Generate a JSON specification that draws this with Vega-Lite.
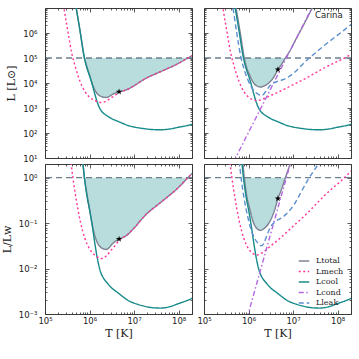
{
"$schema":"https://vega.github.io/schema/vega-lite/v6.json",
"background":"white",
"padding":{"left":0,"top":7,"right":8,"bottom":0},
"config":{"font":"DejaVu Sans","view":{"stroke":"#3a3a3a","strokeWidth":1},
 "axis":{"grid":false,"domain":false,"tickColor":"#333","tickWidth":0.8,"labelFont":"DejaVu Sans","labelFontSize":8.5,"labelColor":"#222","titleFont":"DejaVu Serif","titleFontWeight":"normal","titleFontSize":11,"titleColor":"#222"},
 "legend":{"orient":"bottom-right","offset":7,"symbolType":"stroke","symbolStrokeWidth":1.5,"symbolSize":110,"labelFont":"DejaVu Serif","labelFontSize":8,"rowPadding":0.5,"padding":0,"labelColor":"#222","labelOffset":6}},
"datasets":{"c":[
{"p":"A","s":"Lcool","T":467700,"L":19950000,"r":199.5},
{"p":"A","s":"Lcool","T":501200,"L":10000000,"r":100},
{"p":"A","s":"Lcool","T":616600,"L":1122000,"r":11.22},
{"p":"A","s":"Lcool","T":758600,"L":112200,"r":1.122},
{"p":"A","s":"Lcool","T":891300,"L":35480,"r":0.3548},
{"p":"A","s":"Lcool","T":1000000,"L":19950,"r":0.1995},
{"p":"A","s":"Lcool","T":1148000,"L":8913,"r":0.08913},
{"p":"A","s":"Lcool","T":1318000,"L":3548,"r":0.03548},
{"p":"A","s":"Lcool","T":1514000,"L":1585,"r":0.01585},
{"p":"A","s":"Lcool","T":1738000,"L":891.3,"r":0.008913},
{"p":"A","s":"Lcool","T":2089000,"L":602.6,"r":0.006026},
{"p":"A","s":"Lcool","T":2512000,"L":478.6,"r":0.004786},
{"p":"A","s":"Lcool","T":3162000,"L":371.5,"r":0.003715},
{"p":"A","s":"Lcool","T":4169000,"L":302,"r":0.00302},
{"p":"A","s":"Lcool","T":5623000,"L":239.9,"r":0.002399},
{"p":"A","s":"Lcool","T":7586000,"L":195,"r":0.00195},
{"p":"A","s":"Lcool","T":10000000,"L":173.8,"r":0.001738},
{"p":"A","s":"Lcool","T":15850000,"L":151.4,"r":0.001514},
{"p":"A","s":"Lcool","T":25120000,"L":138,"r":0.00138},
{"p":"A","s":"Lcool","T":39810000,"L":134.9,"r":0.001349},
{"p":"A","s":"Lcool","T":63100000,"L":144.5,"r":0.001445},
{"p":"A","s":"Lcool","T":100000000,"L":169.8,"r":0.001698},
{"p":"A","s":"Lcool","T":158500000,"L":199.5,"r":0.001995},
{"p":"A","s":"Lcool","T":204200000,"L":223.9,"r":0.002239},
{"p":"L","s":"Ltotal","T":467700,"L":19950000,"r":199.5},
{"p":"L","s":"Ltotal","T":501200,"L":10000000,"r":100},
{"p":"L","s":"Ltotal","T":616600,"L":1122000,"r":11.22},
{"p":"L","s":"Ltotal","T":765600,"L":100000,"r":1},
{"p":"L","s":"Ltotal","T":891300,"L":39810,"r":0.3981},
{"p":"L","s":"Ltotal","T":1023000,"L":17780,"r":0.1778},
{"p":"L","s":"Ltotal","T":1148000,"L":9333,"r":0.09333},
{"p":"L","s":"Ltotal","T":1318000,"L":5248,"r":0.05248},
{"p":"L","s":"Ltotal","T":1514000,"L":3631,"r":0.03631},
{"p":"L","s":"Ltotal","T":1778000,"L":2951,"r":0.02951},
{"p":"L","s":"Ltotal","T":2089000,"L":2692,"r":0.02692},
{"p":"L","s":"Ltotal","T":2344000,"L":2630,"r":0.0263},
{"p":"L","s":"Ltotal","T":2692000,"L":2818,"r":0.02818},
{"p":"L","s":"Ltotal","T":3162000,"L":3388,"r":0.03388},
{"p":"L","s":"Ltotal","T":3802000,"L":3981,"r":0.03981},
{"p":"L","s":"Ltotal","T":4571000,"L":4467,"r":0.04467},
{"p":"L","s":"Ltotal","T":5495000,"L":4786,"r":0.04786},
{"p":"L","s":"Ltotal","T":6310000,"L":5129,"r":0.05129},
{"p":"L","s":"Ltotal","T":7413000,"L":5754,"r":0.05754},
{"p":"L","s":"Ltotal","T":8710000,"L":6761,"r":0.06761},
{"p":"L","s":"Ltotal","T":10470000,"L":8128,"r":0.08128},
{"p":"L","s":"Ltotal","T":13490000,"L":10960,"r":0.1096},
{"p":"L","s":"Ltotal","T":19050000,"L":15850,"r":0.1585},
{"p":"L","s":"Ltotal","T":31620000,"L":23990,"r":0.2399},
{"p":"L","s":"Ltotal","T":53700000,"L":36310,"r":0.3631},
{"p":"L","s":"Ltotal","T":91200000,"L":56230,"r":0.5623},
{"p":"L","s":"Ltotal","T":151400000,"L":93330,"r":0.9333},
{"p":"L","s":"Ltotal","T":162200000,"L":100000,"r":1},
{"p":"L","s":"Ltotal","T":204200000,"L":125900,"r":1.259},
{"p":"L","s":"Lmech","T":251200,"L":19950000,"r":199.5},
{"p":"L","s":"Lmech","T":269200,"L":8913000,"r":89.13},
{"p":"L","s":"Lmech","T":331100,"L":1000000,"r":10},
{"p":"L","s":"Lmech","T":398100,"L":158500,"r":1.585},
{"p":"L","s":"Lmech","T":478600,"L":44670,"r":0.4467},
{"p":"L","s":"Lmech","T":616600,"L":11220,"r":0.1122},
{"p":"L","s":"Lmech","T":794300,"L":4467,"r":0.04467},
{"p":"L","s":"Lmech","T":1023000,"L":2630,"r":0.0263},
{"p":"L","s":"Lmech","T":1380000,"L":1905,"r":0.01905},
{"p":"L","s":"Lmech","T":1862000,"L":1660,"r":0.0166},
{"p":"L","s":"Lmech","T":2399000,"L":1905,"r":0.01905},
{"p":"L","s":"Lmech","T":3020000,"L":2512,"r":0.02512},
{"p":"L","s":"Lmech","T":3715000,"L":3162,"r":0.03162},
{"p":"L","s":"Lmech","T":4571000,"L":4169,"r":0.04169},
{"p":"L","s":"Lmech","T":5495000,"L":4786,"r":0.04786},
{"p":"L","s":"Lmech","T":6310000,"L":5129,"r":0.05129},
{"p":"L","s":"Lmech","T":7413000,"L":5754,"r":0.05754},
{"p":"L","s":"Lmech","T":8710000,"L":6761,"r":0.06761},
{"p":"L","s":"Lmech","T":10470000,"L":8128,"r":0.08128},
{"p":"L","s":"Lmech","T":13490000,"L":10960,"r":0.1096},
{"p":"L","s":"Lmech","T":19050000,"L":15850,"r":0.1585},
{"p":"L","s":"Lmech","T":31620000,"L":23990,"r":0.2399},
{"p":"L","s":"Lmech","T":53700000,"L":36310,"r":0.3631},
{"p":"L","s":"Lmech","T":91200000,"L":56230,"r":0.5623},
{"p":"L","s":"Lmech","T":151400000,"L":93330,"r":0.9333},
{"p":"L","s":"Lmech","T":204200000,"L":125900,"r":1.259},
{"p":"R","s":"Ltotal","T":489800,"L":19950000,"r":199.5},
{"p":"R","s":"Ltotal","T":524800,"L":10000000,"r":100},
{"p":"R","s":"Ltotal","T":645700,"L":1122000,"r":11.22},
{"p":"R","s":"Ltotal","T":803500,"L":100000,"r":1},
{"p":"R","s":"Ltotal","T":891300,"L":45710,"r":0.4571},
{"p":"R","s":"Ltotal","T":1072000,"L":19950,"r":0.1995},
{"p":"R","s":"Ltotal","T":1259000,"L":10960,"r":0.1096},
{"p":"R","s":"Ltotal","T":1514000,"L":7762,"r":0.07762},
{"p":"R","s":"Ltotal","T":1862000,"L":6918,"r":0.06918},
{"p":"R","s":"Ltotal","T":2291000,"L":7762,"r":0.07762},
{"p":"R","s":"Ltotal","T":3020000,"L":10960,"r":0.1096},
{"p":"R","s":"Ltotal","T":3890000,"L":19950,"r":0.1995},
{"p":"R","s":"Ltotal","T":4571000,"L":34670,"r":0.3467},
{"p":"R","s":"Ltotal","T":5495000,"L":54950,"r":0.5495},
{"p":"R","s":"Ltotal","T":6714000,"L":100000,"r":1},
{"p":"R","s":"Ltotal","T":8511000,"L":195000,"r":1.95},
{"p":"R","s":"Ltotal","T":10960000,"L":467700,"r":4.677},
{"p":"R","s":"Ltotal","T":16600000,"L":1862000,"r":18.62},
{"p":"R","s":"Ltotal","T":28180000,"L":11750000,"r":117.5},
{"p":"R","s":"Ltotal","T":31620000,"L":17780000,"r":177.8},
{"p":"R","s":"Lmech","T":251200,"L":19950000,"r":199.5},
{"p":"R","s":"Lmech","T":269200,"L":8913000,"r":89.13},
{"p":"R","s":"Lmech","T":331100,"L":1000000,"r":10},
{"p":"R","s":"Lmech","T":398100,"L":158500,"r":1.585},
{"p":"R","s":"Lmech","T":478600,"L":44670,"r":0.4467},
{"p":"R","s":"Lmech","T":616600,"L":11220,"r":0.1122},
{"p":"R","s":"Lmech","T":794300,"L":4467,"r":0.04467},
{"p":"R","s":"Lmech","T":1023000,"L":2630,"r":0.0263},
{"p":"R","s":"Lmech","T":1259000,"L":2138,"r":0.02138},
{"p":"R","s":"Lmech","T":1585000,"L":1995,"r":0.01995},
{"p":"R","s":"Lmech","T":2239000,"L":2399,"r":0.02399},
{"p":"R","s":"Lmech","T":3162000,"L":3162,"r":0.03162},
{"p":"R","s":"Lmech","T":5012000,"L":4571,"r":0.04571},
{"p":"R","s":"Lmech","T":7943000,"L":6918,"r":0.06918},
{"p":"R","s":"Lmech","T":12590000,"L":10470,"r":0.1047},
{"p":"R","s":"Lmech","T":19950000,"L":15850,"r":0.1585},
{"p":"R","s":"Lmech","T":31620000,"L":25120,"r":0.2512},
{"p":"R","s":"Lmech","T":50120000,"L":39810,"r":0.3981},
{"p":"R","s":"Lmech","T":79430000,"L":60260,"r":0.6026},
{"p":"R","s":"Lmech","T":125900000,"L":89130,"r":0.8913},
{"p":"R","s":"Lmech","T":204200000,"L":141300,"r":1.413},
{"p":"R","s":"Lcond","T":354800,"L":2.818,"r":0.00002818},
{"p":"R","s":"Lcond","T":1000000,"L":105.9,"r":0.001059},
{"p":"R","s":"Lcond","T":3162000,"L":5957,"r":0.05957},
{"p":"R","s":"Lcond","T":10000000,"L":335000,"r":3.35},
{"p":"R","s":"Lcond","T":39810000,"L":42170000,"r":421.7},
{"p":"R","s":"Lleak","T":416900,"L":19950000,"r":199.5},
{"p":"R","s":"Lleak","T":446700,"L":10000000,"r":100},
{"p":"R","s":"Lleak","T":549500,"L":891300,"r":8.913},
{"p":"R","s":"Lleak","T":660700,"L":125900,"r":1.259},
{"p":"R","s":"Lleak","T":794300,"L":35480,"r":0.3548},
{"p":"R","s":"Lleak","T":955000,"L":14130,"r":0.1413},
{"p":"R","s":"Lleak","T":1148000,"L":7079,"r":0.07079},
{"p":"R","s":"Lleak","T":1380000,"L":4571,"r":0.04571},
{"p":"R","s":"Lleak","T":1660000,"L":3548,"r":0.03548},
{"p":"R","s":"Lleak","T":1905000,"L":3162,"r":0.03162},
{"p":"R","s":"Lleak","T":2188000,"L":3548,"r":0.03548},
{"p":"R","s":"Lleak","T":2630000,"L":5623,"r":0.05623},
{"p":"R","s":"Lleak","T":3162000,"L":8511,"r":0.08511},
{"p":"R","s":"Lleak","T":3981000,"L":10720,"r":0.1072},
{"p":"R","s":"Lleak","T":5623000,"L":13180,"r":0.1318},
{"p":"R","s":"Lleak","T":7943000,"L":17780,"r":0.1778},
{"p":"R","s":"Lleak","T":11220000,"L":28180,"r":0.2818},
{"p":"R","s":"Lleak","T":15850000,"L":52480,"r":0.5248},
{"p":"R","s":"Lleak","T":22390000,"L":95500,"r":0.955},
{"p":"R","s":"Lleak","T":31620000,"L":158500,"r":1.585},
{"p":"R","s":"Lleak","T":50120000,"L":316200,"r":3.162},
{"p":"R","s":"Lleak","T":79430000,"L":602600,"r":6.026},
{"p":"R","s":"Lleak","T":125900000,"L":1122000,"r":11.22},
{"p":"R","s":"Lleak","T":204200000,"L":2239000,"r":22.39},
{"p":"L","s":"star","T":4603000,"L":4467,"r":0.04467},
{"p":"R","s":"star","T":4571000,"L":34670,"r":0.3467}
]},
"columns":2,
"spacing":{"row":6,"column":12},
"bounds":"flush",
"resolve":{"scale":{"color":"independent","strokeDash":"independent"}},
"concat":[
{"width":147,"height":150,"data":{"name":"c"},
 "layer":[
  {"layer":[
   {"transform":[{"filter":"datum.p=='L' && datum.s=='Ltotal' && datum.L<=100000"}],
    "mark":{"type":"area","color":"#b9dcdc","interpolate":"monotone","clip":true},
    "encoding":{"x":{"field":"T","type":"quantitative","scale":{"type":"log","domain":[100000,200000000],"nice":false},"axis":{"orient":"bottom","values":[100000,1000000,10000000,100000000],"labels":false,"tickSize":4,"offset":-4,"title":null}},
     "y":{"field":"L","type":"quantitative","scale":{"type":"log","domain":[10,10000000],"nice":false},"axis":{"orient":"left","values":[10,100,1000,10000,100000,1000000],"labelExpr":"'10' + replace(replace(replace(replace(replace(replace(replace(replace(replace(replace(replace('' + round(log(datum.value)/LN10), '-', '⁻'), '0', '⁰'), '1', '¹'), '2', '²'), '3', '³'), '4', '⁴'), '5', '⁵'), '6', '⁶'), '7', '⁷'), '8', '⁸'), '9', '⁹')","tickSize":4,"offset":-4,"labelPadding":8,"title":"L  [L⊙]","titlePadding":6}},
     "y2":{"datum":100000}}},
   {"data":{"values":[{}]},"mark":{"type":"rule","color":"#6d7f91","strokeDash":[6,4],"strokeWidth":1.3},"encoding":{"y":{"datum":100000,"type":"quantitative","scale":{"type":"log","domain":[10,10000000],"nice":false}}}},
   {"transform":[{"filter":"datum.p=='L' && datum.s=='Ltotal'"}],"mark":{"type":"line","strokeWidth":1.4,"interpolate":"monotone","clip":true},
    "encoding":{"x":{"field":"T","type":"quantitative","scale":{"type":"log","domain":[100000,200000000],"nice":false}},"y":{"field":"L","type":"quantitative","scale":{"type":"log","domain":[10,10000000],"nice":false}},
     "color":{"field":"s","type":"nominal","title":null,"legend":null,"scale":{"domain":["Ltotal","Lmech","Lcool","Lcond","Lleak"],"range":["#7d8193","#ff3399","#178a8a","#b366e0","#5b8fcf"]}},
     "strokeDash":{"field":"s","type":"nominal","title":null,"legend":null,"scale":{"domain":["Ltotal","Lmech","Lcool","Lcond","Lleak"],"range":[[1,0],[2,2.5],[1,0],[5,2.5,1.5,2.5],[5,3]]}}}},
   {"transform":[{"filter":"datum.p!='R' && datum.s=='Lcool'"}],"mark":{"type":"line","strokeWidth":1.4,"interpolate":"monotone","clip":true},
    "encoding":{"x":{"field":"T","type":"quantitative","scale":{"type":"log","domain":[100000,200000000],"nice":false}},"y":{"field":"L","type":"quantitative","scale":{"type":"log","domain":[10,10000000],"nice":false}},
     "color":{"field":"s","type":"nominal","title":null,"legend":null,"scale":{"domain":["Ltotal","Lmech","Lcool","Lcond","Lleak"],"range":["#7d8193","#ff3399","#178a8a","#b366e0","#5b8fcf"]}},
     "strokeDash":{"field":"s","type":"nominal","title":null,"legend":null,"scale":{"domain":["Ltotal","Lmech","Lcool","Lcond","Lleak"],"range":[[1,0],[2,2.5],[1,0],[5,2.5,1.5,2.5],[5,3]]}}}},
   {"transform":[{"filter":"datum.p=='L' && datum.s=='Lmech'"}],"mark":{"type":"line","strokeWidth":1.4,"interpolate":"monotone","clip":true},
    "encoding":{"x":{"field":"T","type":"quantitative","scale":{"type":"log","domain":[100000,200000000],"nice":false}},"y":{"field":"L","type":"quantitative","scale":{"type":"log","domain":[10,10000000],"nice":false}},
     "color":{"field":"s","type":"nominal","title":null,"legend":null,"scale":{"domain":["Ltotal","Lmech","Lcool","Lcond","Lleak"],"range":["#7d8193","#ff3399","#178a8a","#b366e0","#5b8fcf"]}},
     "strokeDash":{"field":"s","type":"nominal","title":null,"legend":null,"scale":{"domain":["Ltotal","Lmech","Lcool","Lcond","Lleak"],"range":[[1,0],[2,2.5],[1,0],[5,2.5,1.5,2.5],[5,3]]}}}},
   {"transform":[{"filter":"datum.p=='L' && datum.s=='star'"}],"mark":{"type":"point","shape":"M0,-1L0.2245,-0.309L0.9511,-0.309L0.3633,0.118L0.5878,0.809L0,0.382L-0.5878,0.809L-0.3633,0.118L-0.9511,-0.309L-0.2245,-0.309Z","filled":true,"color":"black","opacity":1,"size":45},
    "encoding":{"x":{"field":"T","type":"quantitative","scale":{"type":"log","domain":[100000,200000000],"nice":false}},"y":{"field":"L","type":"quantitative","scale":{"type":"log","domain":[10,10000000],"nice":false}}}}
  ]},
  {"data":{"values":[{}]},"mark":{"type":"point","opacity":0},"encoding":{"x":{"datum":1000000,"type":"quantitative","scale":{"type":"log","domain":[100000,200000000],"nice":false},"axis":{"orient":"top","values":[100000,1000000,10000000,100000000],"labels":false,"tickSize":4,"offset":-4,"title":null}},"y":{"datum":1000,"type":"quantitative","scale":{"type":"log","domain":[10,10000000],"nice":false},"axis":{"orient":"right","values":[10,100,1000,10000,100000,1000000],"labels":false,"tickSize":4,"offset":-4,"title":null}}}},
  {"data":{"values":[{}]},"mark":{"type":"point","opacity":0},"encoding":{"x":{"datum":1000000,"type":"quantitative","scale":{"type":"log","domain":[100000,200000000],"nice":false},"axis":{"orient":"bottom","values":[200000,300000,400000,500000,600000,700000,800000,900000,2000000,3000000,4000000,5000000,6000000,7000000,8000000,9000000,20000000,30000000,40000000,50000000,60000000,70000000,80000000,90000000,200000000],"labels":false,"tickSize":2,"offset":-2,"title":null}},"y":{"datum":1000,"type":"quantitative","scale":{"type":"log","domain":[10,10000000],"nice":false},"axis":{"orient":"left","values":[20,30,40,50,60,70,80,90,200,300,400,500,600,700,800,900,2000,3000,4000,5000,6000,7000,8000,9000,20000,30000,40000,50000,60000,70000,80000,90000,200000,300000,400000,500000,600000,700000,800000,900000,2000000,3000000,4000000,5000000,6000000,7000000,8000000,9000000],"labels":false,"tickSize":2,"offset":-2,"title":null}}}},
  {"data":{"values":[{}]},"mark":{"type":"point","opacity":0},"encoding":{"x":{"datum":1000000,"type":"quantitative","scale":{"type":"log","domain":[100000,200000000],"nice":false},"axis":{"orient":"top","values":[200000,300000,400000,500000,600000,700000,800000,900000,2000000,3000000,4000000,5000000,6000000,7000000,8000000,9000000,20000000,30000000,40000000,50000000,60000000,70000000,80000000,90000000,200000000],"labels":false,"tickSize":2,"offset":-2,"title":null}},"y":{"datum":1000,"type":"quantitative","scale":{"type":"log","domain":[10,10000000],"nice":false},"axis":{"orient":"right","values":[20,30,40,50,60,70,80,90,200,300,400,500,600,700,800,900,2000,3000,4000,5000,6000,7000,8000,9000,20000,30000,40000,50000,60000,70000,80000,90000,200000,300000,400000,500000,600000,700000,800000,900000,2000000,3000000,4000000,5000000,6000000,7000000,8000000,9000000],"labels":false,"tickSize":2,"offset":-2,"title":null}}}}
 ],
 "resolve":{"axis":{"x":"independent","y":"independent"}}
},
{"width":147,"height":150,"data":{"name":"c"},
 "layer":[
  {"layer":[
   {"transform":[{"filter":"datum.p=='R' && datum.s=='Ltotal' && datum.L<=100000"}],
    "mark":{"type":"area","color":"#b9dcdc","interpolate":"monotone","clip":true},
    "encoding":{"x":{"field":"T","type":"quantitative","scale":{"type":"log","domain":[100000,200000000],"nice":false},"axis":{"orient":"bottom","values":[100000,1000000,10000000,100000000],"labels":false,"tickSize":4,"offset":-4,"title":null}},
     "y":{"field":"L","type":"quantitative","scale":{"type":"log","domain":[10,10000000],"nice":false},"axis":{"orient":"left","values":[10,100,1000,10000,100000,1000000],"labels":false,"tickSize":4,"offset":-4,"title":null}},
     "y2":{"datum":100000}}},
   {"data":{"values":[{}]},"mark":{"type":"rule","color":"#6d7f91","strokeDash":[6,4],"strokeWidth":1.3},"encoding":{"y":{"datum":100000,"type":"quantitative","scale":{"type":"log","domain":[10,10000000],"nice":false}}}},
   {"transform":[{"filter":"datum.p=='R' && datum.s=='Ltotal'"}],"mark":{"type":"line","strokeWidth":1.4,"interpolate":"monotone","clip":true},
    "encoding":{"x":{"field":"T","type":"quantitative","scale":{"type":"log","domain":[100000,200000000],"nice":false}},"y":{"field":"L","type":"quantitative","scale":{"type":"log","domain":[10,10000000],"nice":false}},
     "color":{"field":"s","type":"nominal","title":null,"legend":null,"scale":{"domain":["Ltotal","Lmech","Lcool","Lcond","Lleak"],"range":["#7d8193","#ff3399","#178a8a","#b366e0","#5b8fcf"]}},
     "strokeDash":{"field":"s","type":"nominal","title":null,"legend":null,"scale":{"domain":["Ltotal","Lmech","Lcool","Lcond","Lleak"],"range":[[1,0],[2,2.5],[1,0],[5,2.5,1.5,2.5],[5,3]]}}}},
   {"transform":[{"filter":"datum.p!='L' && (datum.s=='Lcool' || datum.s=='Lmech' || datum.s=='Lcond' || datum.s=='Lleak')"}],"mark":{"type":"line","strokeWidth":1.4,"interpolate":"monotone","clip":true},
    "encoding":{"x":{"field":"T","type":"quantitative","scale":{"type":"log","domain":[100000,200000000],"nice":false}},"y":{"field":"L","type":"quantitative","scale":{"type":"log","domain":[10,10000000],"nice":false}},
     "color":{"field":"s","type":"nominal","title":null,"legend":null,"scale":{"domain":["Ltotal","Lmech","Lcool","Lcond","Lleak"],"range":["#7d8193","#ff3399","#178a8a","#b366e0","#5b8fcf"]}},
     "strokeDash":{"field":"s","type":"nominal","title":null,"legend":null,"scale":{"domain":["Ltotal","Lmech","Lcool","Lcond","Lleak"],"range":[[1,0],[2,2.5],[1,0],[5,2.5,1.5,2.5],[5,3]]}}}},
   {"transform":[{"filter":"datum.p=='R' && datum.s=='star'"}],"mark":{"type":"point","shape":"M0,-1L0.2245,-0.309L0.9511,-0.309L0.3633,0.118L0.5878,0.809L0,0.382L-0.5878,0.809L-0.3633,0.118L-0.9511,-0.309L-0.2245,-0.309Z","filled":true,"color":"black","opacity":1,"size":45},
    "encoding":{"x":{"field":"T","type":"quantitative","scale":{"type":"log","domain":[100000,200000000],"nice":false}},"y":{"field":"L","type":"quantitative","scale":{"type":"log","domain":[10,10000000],"nice":false}}}},
   {"data":{"values":[{"label":"Carina"}]},"mark":{"type":"text","font":"DejaVu Sans","fontSize":8.5,"align":"right","baseline":"middle","color":"#222"},
    "encoding":{"x":{"datum":130000000,"type":"quantitative","scale":{"type":"log","domain":[100000,200000000],"nice":false}},"y":{"datum":5100000,"type":"quantitative","scale":{"type":"log","domain":[10,10000000],"nice":false}},"text":{"field":"label"}}}
  ]},
  {"data":{"values":[{}]},"mark":{"type":"point","opacity":0},"encoding":{"x":{"datum":1000000,"type":"quantitative","scale":{"type":"log","domain":[100000,200000000],"nice":false},"axis":{"orient":"top","values":[100000,1000000,10000000,100000000],"labels":false,"tickSize":4,"offset":-4,"title":null}},"y":{"datum":1000,"type":"quantitative","scale":{"type":"log","domain":[10,10000000],"nice":false},"axis":{"orient":"right","values":[10,100,1000,10000,100000,1000000],"labels":false,"tickSize":4,"offset":-4,"title":null}}}},
  {"data":{"values":[{}]},"mark":{"type":"point","opacity":0},"encoding":{"x":{"datum":1000000,"type":"quantitative","scale":{"type":"log","domain":[100000,200000000],"nice":false},"axis":{"orient":"bottom","values":[200000,300000,400000,500000,600000,700000,800000,900000,2000000,3000000,4000000,5000000,6000000,7000000,8000000,9000000,20000000,30000000,40000000,50000000,60000000,70000000,80000000,90000000,200000000],"labels":false,"tickSize":2,"offset":-2,"title":null}},"y":{"datum":1000,"type":"quantitative","scale":{"type":"log","domain":[10,10000000],"nice":false},"axis":{"orient":"left","values":[20,30,40,50,60,70,80,90,200,300,400,500,600,700,800,900,2000,3000,4000,5000,6000,7000,8000,9000,20000,30000,40000,50000,60000,70000,80000,90000,200000,300000,400000,500000,600000,700000,800000,900000,2000000,3000000,4000000,5000000,6000000,7000000,8000000,9000000],"labels":false,"tickSize":2,"offset":-2,"title":null}}}},
  {"data":{"values":[{}]},"mark":{"type":"point","opacity":0},"encoding":{"x":{"datum":1000000,"type":"quantitative","scale":{"type":"log","domain":[100000,200000000],"nice":false},"axis":{"orient":"top","values":[200000,300000,400000,500000,600000,700000,800000,900000,2000000,3000000,4000000,5000000,6000000,7000000,8000000,9000000,20000000,30000000,40000000,50000000,60000000,70000000,80000000,90000000,200000000],"labels":false,"tickSize":2,"offset":-2,"title":null}},"y":{"datum":1000,"type":"quantitative","scale":{"type":"log","domain":[10,10000000],"nice":false},"axis":{"orient":"right","values":[20,30,40,50,60,70,80,90,200,300,400,500,600,700,800,900,2000,3000,4000,5000,6000,7000,8000,9000,20000,30000,40000,50000,60000,70000,80000,90000,200000,300000,400000,500000,600000,700000,800000,900000,2000000,3000000,4000000,5000000,6000000,7000000,8000000,9000000],"labels":false,"tickSize":2,"offset":-2,"title":null}}}}
 ],
 "resolve":{"axis":{"x":"independent","y":"independent"}}
},
{"width":147,"height":150,"data":{"name":"c"},
 "layer":[
  {"layer":[
   {"transform":[{"filter":"datum.p=='L' && datum.s=='Ltotal' && datum.r<=1"}],
    "mark":{"type":"area","color":"#b9dcdc","interpolate":"monotone","clip":true},
    "encoding":{"x":{"field":"T","type":"quantitative","scale":{"type":"log","domain":[100000,200000000],"nice":false},"axis":{"orient":"bottom","values":[100000,1000000,10000000,100000000],"labelExpr":"'10' + replace(replace(replace(replace(replace(replace(replace(replace(replace(replace(replace('' + round(log(datum.value)/LN10), '-', '⁻'), '0', '⁰'), '1', '¹'), '2', '²'), '3', '³'), '4', '⁴'), '5', '⁵'), '6', '⁶'), '7', '⁷'), '8', '⁸'), '9', '⁹')","labelFlush":false,"labelOverlap":false,"tickSize":4,"offset":-4,"labelPadding":2,"title":"T  [K]","titlePadding":3}},
     "y":{"field":"r","type":"quantitative","scale":{"type":"log","domain":[0.001,2],"nice":false},"axis":{"orient":"left","values":[0.001,0.01,0.1,1],"labelExpr":"'10' + replace(replace(replace(replace(replace(replace(replace(replace(replace(replace(replace('' + round(log(datum.value)/LN10), '-', '⁻'), '0', '⁰'), '1', '¹'), '2', '²'), '3', '³'), '4', '⁴'), '5', '⁵'), '6', '⁶'), '7', '⁷'), '8', '⁸'), '9', '⁹')","tickSize":4,"offset":-4,"labelPadding":8,"title":"L/Lw","titlePadding":6}},
     "y2":{"datum":1}}},
   {"data":{"values":[{}]},"mark":{"type":"rule","color":"#6d7f91","strokeDash":[6,4],"strokeWidth":1.3},"encoding":{"y":{"datum":1,"type":"quantitative","scale":{"type":"log","domain":[0.001,2],"nice":false}}}},
   {"transform":[{"filter":"datum.p=='L' && datum.s=='Ltotal'"}],"mark":{"type":"line","strokeWidth":1.4,"interpolate":"monotone","clip":true},
    "encoding":{"x":{"field":"T","type":"quantitative","scale":{"type":"log","domain":[100000,200000000],"nice":false}},"y":{"field":"r","type":"quantitative","scale":{"type":"log","domain":[0.001,2],"nice":false}},
     "color":{"field":"s","type":"nominal","title":null,"legend":null,"scale":{"domain":["Ltotal","Lmech","Lcool","Lcond","Lleak"],"range":["#7d8193","#ff3399","#178a8a","#b366e0","#5b8fcf"]}},
     "strokeDash":{"field":"s","type":"nominal","title":null,"legend":null,"scale":{"domain":["Ltotal","Lmech","Lcool","Lcond","Lleak"],"range":[[1,0],[2,2.5],[1,0],[5,2.5,1.5,2.5],[5,3]]}}}},
   {"transform":[{"filter":"datum.p!='R' && datum.s=='Lcool'"}],"mark":{"type":"line","strokeWidth":1.4,"interpolate":"monotone","clip":true},
    "encoding":{"x":{"field":"T","type":"quantitative","scale":{"type":"log","domain":[100000,200000000],"nice":false}},"y":{"field":"r","type":"quantitative","scale":{"type":"log","domain":[0.001,2],"nice":false}},
     "color":{"field":"s","type":"nominal","title":null,"legend":null,"scale":{"domain":["Ltotal","Lmech","Lcool","Lcond","Lleak"],"range":["#7d8193","#ff3399","#178a8a","#b366e0","#5b8fcf"]}},
     "strokeDash":{"field":"s","type":"nominal","title":null,"legend":null,"scale":{"domain":["Ltotal","Lmech","Lcool","Lcond","Lleak"],"range":[[1,0],[2,2.5],[1,0],[5,2.5,1.5,2.5],[5,3]]}}}},
   {"transform":[{"filter":"datum.p=='L' && datum.s=='Lmech'"}],"mark":{"type":"line","strokeWidth":1.4,"interpolate":"monotone","clip":true},
    "encoding":{"x":{"field":"T","type":"quantitative","scale":{"type":"log","domain":[100000,200000000],"nice":false}},"y":{"field":"r","type":"quantitative","scale":{"type":"log","domain":[0.001,2],"nice":false}},
     "color":{"field":"s","type":"nominal","title":null,"legend":null,"scale":{"domain":["Ltotal","Lmech","Lcool","Lcond","Lleak"],"range":["#7d8193","#ff3399","#178a8a","#b366e0","#5b8fcf"]}},
     "strokeDash":{"field":"s","type":"nominal","title":null,"legend":null,"scale":{"domain":["Ltotal","Lmech","Lcool","Lcond","Lleak"],"range":[[1,0],[2,2.5],[1,0],[5,2.5,1.5,2.5],[5,3]]}}}},
   {"transform":[{"filter":"datum.p=='L' && datum.s=='star'"}],"mark":{"type":"point","shape":"M0,-1L0.2245,-0.309L0.9511,-0.309L0.3633,0.118L0.5878,0.809L0,0.382L-0.5878,0.809L-0.3633,0.118L-0.9511,-0.309L-0.2245,-0.309Z","filled":true,"color":"black","opacity":1,"size":45},
    "encoding":{"x":{"field":"T","type":"quantitative","scale":{"type":"log","domain":[100000,200000000],"nice":false}},"y":{"field":"r","type":"quantitative","scale":{"type":"log","domain":[0.001,2],"nice":false}}}}
  ]},
  {"data":{"values":[{}]},"mark":{"type":"point","opacity":0},"encoding":{"x":{"datum":1000000,"type":"quantitative","scale":{"type":"log","domain":[100000,200000000],"nice":false},"axis":{"orient":"top","values":[100000,1000000,10000000,100000000],"labels":false,"tickSize":4,"offset":-4,"title":null}},"y":{"datum":0.01,"type":"quantitative","scale":{"type":"log","domain":[0.001,2],"nice":false},"axis":{"orient":"right","values":[0.001,0.01,0.1,1],"labels":false,"tickSize":4,"offset":-4,"title":null}}}},
  {"data":{"values":[{}]},"mark":{"type":"point","opacity":0},"encoding":{"x":{"datum":1000000,"type":"quantitative","scale":{"type":"log","domain":[100000,200000000],"nice":false},"axis":{"orient":"bottom","values":[200000,300000,400000,500000,600000,700000,800000,900000,2000000,3000000,4000000,5000000,6000000,7000000,8000000,9000000,20000000,30000000,40000000,50000000,60000000,70000000,80000000,90000000,200000000],"labels":false,"tickSize":2,"offset":-2,"title":null}},"y":{"datum":0.01,"type":"quantitative","scale":{"type":"log","domain":[0.001,2],"nice":false},"axis":{"orient":"left","values":[0.002,0.003,0.004,0.005,0.006,0.007,0.008,0.009,0.02,0.03,0.04,0.05,0.06,0.07,0.08,0.09,0.2,0.3,0.4,0.5,0.6,0.7,0.8,0.9,2],"labels":false,"tickSize":2,"offset":-2,"title":null}}}},
  {"data":{"values":[{}]},"mark":{"type":"point","opacity":0},"encoding":{"x":{"datum":1000000,"type":"quantitative","scale":{"type":"log","domain":[100000,200000000],"nice":false},"axis":{"orient":"top","values":[200000,300000,400000,500000,600000,700000,800000,900000,2000000,3000000,4000000,5000000,6000000,7000000,8000000,9000000,20000000,30000000,40000000,50000000,60000000,70000000,80000000,90000000,200000000],"labels":false,"tickSize":2,"offset":-2,"title":null}},"y":{"datum":0.01,"type":"quantitative","scale":{"type":"log","domain":[0.001,2],"nice":false},"axis":{"orient":"right","values":[0.002,0.003,0.004,0.005,0.006,0.007,0.008,0.009,0.02,0.03,0.04,0.05,0.06,0.07,0.08,0.09,0.2,0.3,0.4,0.5,0.6,0.7,0.8,0.9,2],"labels":false,"tickSize":2,"offset":-2,"title":null}}}}
 ],
 "resolve":{"axis":{"x":"independent","y":"independent"}}
},
{"width":147,"height":150,"data":{"name":"c"},
 "layer":[
  {"layer":[
   {"transform":[{"filter":"datum.p=='R' && datum.s=='Ltotal' && datum.r<=1"}],
    "mark":{"type":"area","color":"#b9dcdc","interpolate":"monotone","clip":true},
    "encoding":{"x":{"field":"T","type":"quantitative","scale":{"type":"log","domain":[100000,200000000],"nice":false},"axis":{"orient":"bottom","values":[100000,1000000,10000000,100000000],"labelExpr":"'10' + replace(replace(replace(replace(replace(replace(replace(replace(replace(replace(replace('' + round(log(datum.value)/LN10), '-', '⁻'), '0', '⁰'), '1', '¹'), '2', '²'), '3', '³'), '4', '⁴'), '5', '⁵'), '6', '⁶'), '7', '⁷'), '8', '⁸'), '9', '⁹')","labelFlush":false,"labelOverlap":false,"tickSize":4,"offset":-4,"labelPadding":2,"title":"T  [K]","titlePadding":3}},
     "y":{"field":"r","type":"quantitative","scale":{"type":"log","domain":[0.001,2],"nice":false},"axis":{"orient":"left","values":[0.001,0.01,0.1,1],"labels":false,"tickSize":4,"offset":-4,"title":null}},
     "y2":{"datum":1}}},
   {"data":{"values":[{}]},"mark":{"type":"rule","color":"#6d7f91","strokeDash":[6,4],"strokeWidth":1.3},"encoding":{"y":{"datum":1,"type":"quantitative","scale":{"type":"log","domain":[0.001,2],"nice":false}}}},
   {"transform":[{"filter":"datum.p=='R' && datum.s=='Ltotal'"}],"mark":{"type":"line","strokeWidth":1.4,"interpolate":"monotone","clip":true},
    "encoding":{"x":{"field":"T","type":"quantitative","scale":{"type":"log","domain":[100000,200000000],"nice":false}},"y":{"field":"r","type":"quantitative","scale":{"type":"log","domain":[0.001,2],"nice":false}},
     "color":{"field":"s","type":"nominal","title":null,"scale":{"domain":["Ltotal","Lmech","Lcool","Lcond","Lleak"],"range":["#7d8193","#ff3399","#178a8a","#b366e0","#5b8fcf"]}},
     "strokeDash":{"field":"s","type":"nominal","title":null,"scale":{"domain":["Ltotal","Lmech","Lcool","Lcond","Lleak"],"range":[[1,0],[2,2.5],[1,0],[5,2.5,1.5,2.5],[5,3]]}}}},
   {"transform":[{"filter":"datum.p!='L' && (datum.s=='Lcool' || datum.s=='Lmech' || datum.s=='Lcond' || datum.s=='Lleak')"}],"mark":{"type":"line","strokeWidth":1.4,"interpolate":"monotone","clip":true},
    "encoding":{"x":{"field":"T","type":"quantitative","scale":{"type":"log","domain":[100000,200000000],"nice":false}},"y":{"field":"r","type":"quantitative","scale":{"type":"log","domain":[0.001,2],"nice":false}},
     "color":{"field":"s","type":"nominal","title":null,"scale":{"domain":["Ltotal","Lmech","Lcool","Lcond","Lleak"],"range":["#7d8193","#ff3399","#178a8a","#b366e0","#5b8fcf"]}},
     "strokeDash":{"field":"s","type":"nominal","title":null,"scale":{"domain":["Ltotal","Lmech","Lcool","Lcond","Lleak"],"range":[[1,0],[2,2.5],[1,0],[5,2.5,1.5,2.5],[5,3]]}}}},
   {"transform":[{"filter":"datum.p=='R' && datum.s=='star'"}],"mark":{"type":"point","shape":"M0,-1L0.2245,-0.309L0.9511,-0.309L0.3633,0.118L0.5878,0.809L0,0.382L-0.5878,0.809L-0.3633,0.118L-0.9511,-0.309L-0.2245,-0.309Z","filled":true,"color":"black","opacity":1,"size":45},
    "encoding":{"x":{"field":"T","type":"quantitative","scale":{"type":"log","domain":[100000,200000000],"nice":false}},"y":{"field":"r","type":"quantitative","scale":{"type":"log","domain":[0.001,2],"nice":false}}}}
  ]},
  {"data":{"values":[{}]},"mark":{"type":"point","opacity":0},"encoding":{"x":{"datum":1000000,"type":"quantitative","scale":{"type":"log","domain":[100000,200000000],"nice":false},"axis":{"orient":"top","values":[100000,1000000,10000000,100000000],"labels":false,"tickSize":4,"offset":-4,"title":null}},"y":{"datum":0.01,"type":"quantitative","scale":{"type":"log","domain":[0.001,2],"nice":false},"axis":{"orient":"right","values":[0.001,0.01,0.1,1],"labels":false,"tickSize":4,"offset":-4,"title":null}}}},
  {"data":{"values":[{}]},"mark":{"type":"point","opacity":0},"encoding":{"x":{"datum":1000000,"type":"quantitative","scale":{"type":"log","domain":[100000,200000000],"nice":false},"axis":{"orient":"bottom","values":[200000,300000,400000,500000,600000,700000,800000,900000,2000000,3000000,4000000,5000000,6000000,7000000,8000000,9000000,20000000,30000000,40000000,50000000,60000000,70000000,80000000,90000000,200000000],"labels":false,"tickSize":2,"offset":-2,"title":null}},"y":{"datum":0.01,"type":"quantitative","scale":{"type":"log","domain":[0.001,2],"nice":false},"axis":{"orient":"left","values":[0.002,0.003,0.004,0.005,0.006,0.007,0.008,0.009,0.02,0.03,0.04,0.05,0.06,0.07,0.08,0.09,0.2,0.3,0.4,0.5,0.6,0.7,0.8,0.9,2],"labels":false,"tickSize":2,"offset":-2,"title":null}}}},
  {"data":{"values":[{}]},"mark":{"type":"point","opacity":0},"encoding":{"x":{"datum":1000000,"type":"quantitative","scale":{"type":"log","domain":[100000,200000000],"nice":false},"axis":{"orient":"top","values":[200000,300000,400000,500000,600000,700000,800000,900000,2000000,3000000,4000000,5000000,6000000,7000000,8000000,9000000,20000000,30000000,40000000,50000000,60000000,70000000,80000000,90000000,200000000],"labels":false,"tickSize":2,"offset":-2,"title":null}},"y":{"datum":0.01,"type":"quantitative","scale":{"type":"log","domain":[0.001,2],"nice":false},"axis":{"orient":"right","values":[0.002,0.003,0.004,0.005,0.006,0.007,0.008,0.009,0.02,0.03,0.04,0.05,0.06,0.07,0.08,0.09,0.2,0.3,0.4,0.5,0.6,0.7,0.8,0.9,2],"labels":false,"tickSize":2,"offset":-2,"title":null}}}}
 ],
 "resolve":{"axis":{"x":"independent","y":"independent"}}
}
]
}
